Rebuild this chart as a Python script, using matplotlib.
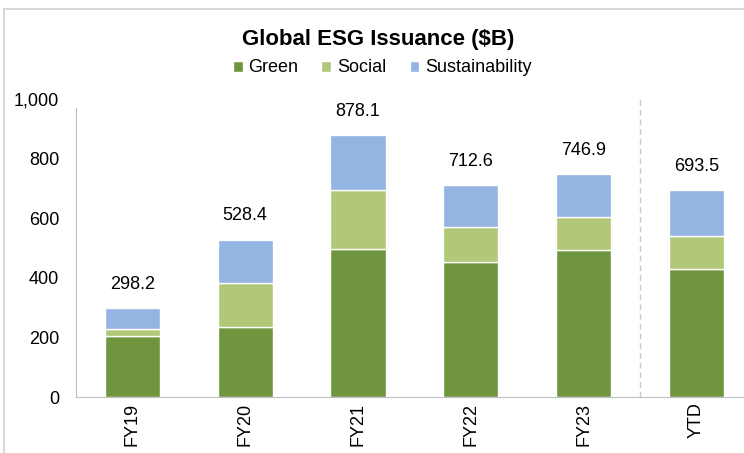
import matplotlib
matplotlib.use('Agg')
import matplotlib.pyplot as plt
import matplotlib.patches as patches
import numpy as np

plt.rcParams['font.family'] = ['Liberation Sans', 'DejaVu Sans']

years = ['FY19', 'FY20', 'FY21', 'FY22', 'FY23', 'YTD']
green = [206.0, 236.0, 498.0, 452.0, 493.0, 430.0]
social = [22.0, 147.4, 197.0, 120.0, 112.0, 109.0]
totals = [298.2, 528.4, 878.1, 712.6, 746.9, 693.5]
sustain = [t - g - s for t, g, s in zip(totals, green, social)]

c_green = '#70953F'
c_social = '#B0C878'
c_sust = '#94B4E1'

fig = plt.figure(figsize=(7.44, 4.53), dpi=100)
ax = fig.add_axes([76 / 744, 1 - 397 / 453, (744 - 76) / 744, (397 - 99) / 453])

x = np.arange(len(years))
w = 0.49
ax.bar(x, green, w, color=c_green, edgecolor='white', linewidth=1, label='Green')
ax.bar(x, social, w, bottom=green, color=c_social, edgecolor='white', linewidth=1, label='Social')
base = [g + s for g, s in zip(green, social)]
ax.bar(x, sustain, w, bottom=base, color=c_sust, edgecolor='white', linewidth=1, label='Sustainability')

for xi, t in zip(x, totals):
    ax.annotate(f'{t:.1f}', (xi, t), xytext=(0, 17), textcoords='offset points',
                ha='center', va='center', fontsize=13)

# separator between full years and year-to-date
ax.plot([4.5, 4.5], [0, 1000], color='#C8C8C8', lw=1, ls=(0, (4, 3)))

ax.set_xlim(-0.5, (744 - 132.5) / 112.8)
ax.set_ylim(0, 1000)
ax.set_yticks(range(0, 1001, 200))
ax.set_yticklabels([f'{v:,}' for v in range(0, 1001, 200)])
ax.set_xticks(x)
ax.set_xticklabels(years, rotation=90)
ax.tick_params(length=0, labelsize=13)
ax.tick_params(axis='y', pad=12)
ax.tick_params(axis='x', pad=4)

for s in ['top', 'right']:
    ax.spines[s].set_visible(False)
ax.spines['left'].set_color('#BFBFBF')
ax.spines['bottom'].set_color('#BFBFBF')
ax.spines['left'].set_bounds(0, 970)

fig.text(378 / 744, 1 - 39 / 453, 'Global ESG Issuance ($B)', ha='center', va='center',
         fontsize=16, fontweight='bold')
fig.legend(loc='center', bbox_to_anchor=(382 / 744, 1 - 68 / 453), ncol=3, frameon=False,
           fontsize=13, handlelength=0.55, handleheight=0.55, handletextpad=0.3,
           columnspacing=1.3)

# outer chart border
fig.patches.append(patches.Rectangle((4 / 744, -0.1), 1.2, 1.1 - 9 / 453, transform=fig.transFigure,
                                     fill=False, edgecolor='#D9D9D9', lw=1.5))

fig.savefig('out.png', dpi=100)
